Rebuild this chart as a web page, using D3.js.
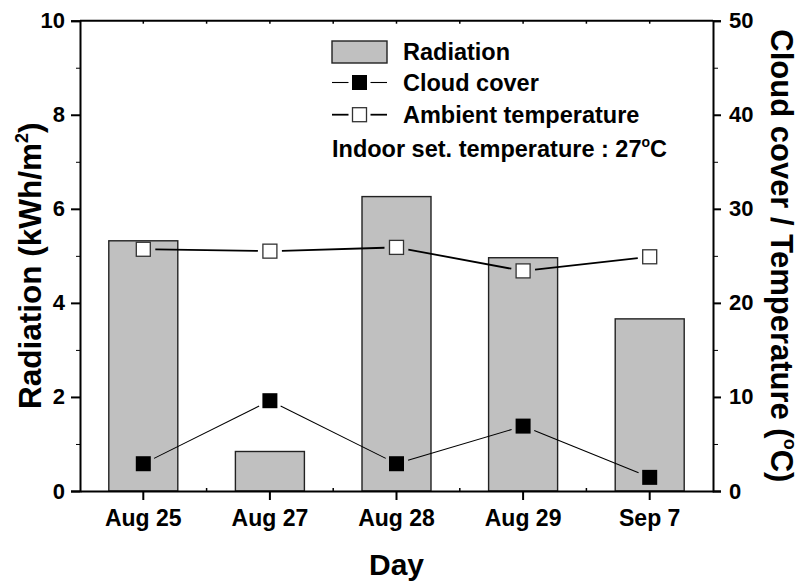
<!DOCTYPE html>
<html>
<head>
<meta charset="utf-8">
<script src="https://cdn.jsdelivr.net/npm/d3@7"></script>
<style>
  html, body { margin: 0; padding: 0; background: #fff; }
  svg { display: block; }
  text { font-family: "Liberation Sans", Arial, Helvetica, sans-serif; font-weight: bold; fill: #000; }
</style>
</head>
<body>
<svg id="chart" width="801" height="583"></svg>
<script>
// Daily radiation, cloud cover and ambient temperature
const days = ["Aug 25", "Aug 27", "Aug 28", "Aug 29", "Sep 7"];
const radiation = [5.32, 0.84, 6.26, 4.96, 3.66];      // kWh/m²
const cloudCover = [2.9, 9.6, 2.9, 6.9, 1.45];          // right axis
const ambientTemp = [25.7, 25.5, 25.9, 23.4, 24.9];     // °C, right axis
const leftTicks = [0, 2, 4, 6, 8, 10];
const rightTicks = [0, 10, 20, 30, 40, 50];

const svg = d3.select("#chart");
const plot = { left: 80, right: 713, top: 20.7, bottom: 491 };

const x = d3.scaleBand().domain(days).range([plot.left, plot.right]).paddingInner(0.455).paddingOuter(0.2275);
const xc = d => x(d) + x.bandwidth() / 2;
const yL = d3.scaleLinear().domain([0, 10]).range([plot.bottom, plot.top]);
const yR = d3.scaleLinear().domain([0, 50]).range([plot.bottom, plot.top]);

// Bars
svg.append("g").selectAll("rect").data(days).join("rect")
  .attr("x", d => x(d))
  .attr("y", (d, i) => yL(radiation[i]))
  .attr("width", x.bandwidth())
  .attr("height", (d, i) => yL(0) - yL(radiation[i]))
  .attr("fill", "#c0c0c0")
  .attr("stroke", "#222")
  .attr("stroke-width", 1.4);

// Connecting lines that stop short of each marker
function gappedSegments(g, pts, gap, width) {
  for (let i = 0; i < pts.length - 1; i++) {
    const [x1, y1] = pts[i], [x2, y2] = pts[i + 1];
    const len = Math.hypot(x2 - x1, y2 - y1);
    const ux = (x2 - x1) / len, uy = (y2 - y1) / len;
    g.append("line")
      .attr("x1", x1 + ux * gap).attr("y1", y1 + uy * gap)
      .attr("x2", x2 - ux * gap).attr("y2", y2 - uy * gap)
      .attr("stroke", "#000").attr("stroke-width", width);
  }
}

const ms = 15; // marker size
const cloudPts = days.map((d, i) => [xc(d), yR(cloudCover[i])]);
const tempPts = days.map((d, i) => [xc(d), yR(ambientTemp[i])]);

const gCloud = svg.append("g");
gappedSegments(gCloud, cloudPts, 12, 1.1);
gCloud.selectAll("rect").data(cloudPts).join("rect")
  .attr("x", p => p[0] - ms / 2).attr("y", p => p[1] - ms / 2)
  .attr("width", ms).attr("height", ms)
  .attr("fill", "#000");

const gTemp = svg.append("g");
gappedSegments(gTemp, tempPts, 12, 1.8);
gTemp.selectAll("rect").data(tempPts).join("rect")
  .attr("x", p => p[0] - (ms - 1) / 2).attr("y", p => p[1] - (ms - 1) / 2)
  .attr("width", ms - 1).attr("height", ms - 1)
  .attr("fill", "#fff").attr("stroke", "#333").attr("stroke-width", 1.3);

// Axes
const tickFont = "22px";
const axisLeft = svg.append("g").attr("transform", `translate(${plot.left},0)`)
  .call(d3.axisLeft(yL).tickValues(leftTicks).tickSize(9).tickPadding(6).tickFormat(d3.format("d")));
const axisRight = svg.append("g").attr("transform", `translate(${plot.right},0)`)
  .call(d3.axisRight(yR).tickValues(rightTicks).tickSize(8).tickPadding(8).tickFormat(d3.format("d")));
const axisBottom = svg.append("g").attr("transform", `translate(0,${plot.bottom})`)
  .call(d3.axisBottom(x).tickSize(9).tickPadding(10).tickSizeOuter(0));

// Minor ticks
svg.append("g").attr("transform", `translate(${plot.left},0)`)
  .call(d3.axisLeft(yL).tickValues([1, 3, 5, 7, 9]).tickSize(4).tickFormat(""))
  .call(g => g.select(".domain").remove());
svg.append("g").attr("transform", `translate(${plot.right},0)`)
  .call(d3.axisRight(yR).tickValues([5, 15, 25, 35, 45]).tickSize(5).tickFormat(""))
  .call(g => g.select(".domain").remove());

// Small inward ticks between categories and on the top frame
const mids = days.slice(0, -1).map((d, i) => (xc(d) + xc(days[i + 1])) / 2);
svg.append("g").selectAll("line").data(mids).join("line")
  .attr("x1", d => d).attr("x2", d => d)
  .attr("y1", plot.bottom).attr("y2", plot.bottom - 3)
  .attr("stroke", "#000").attr("stroke-width", 1.5);
svg.append("g").selectAll("line").data(days.map(xc).concat(mids)).join("line")
  .attr("x1", d => d).attr("x2", d => d)
  .attr("y1", plot.top).attr("y2", plot.top + 3)
  .attr("stroke", "#000").attr("stroke-width", 1.5);

// Top frame line
svg.append("line")
  .attr("x1", plot.left).attr("x2", plot.right)
  .attr("y1", plot.top).attr("y2", plot.top)
  .attr("stroke", "#000").attr("stroke-width", 2);

[axisLeft, axisRight, axisBottom].forEach(g => {
  g.selectAll(".domain").attr("stroke-width", 2);
  g.selectAll(".tick line").attr("stroke-width", 2);
  g.selectAll(".tick text").style("font-size", tickFont);
});
axisBottom.selectAll(".tick text").style("font-size", "23px");

// Axis titles
svg.append("text")
  .attr("x", (plot.left + plot.right) / 2).attr("y", 575)
  .attr("text-anchor", "middle").style("font-size", "30px")
  .text("Day");

const lt = svg.append("text")
  .attr("transform", `translate(41,${(plot.top + plot.bottom) / 2 + 10}) rotate(-90)`)
  .attr("text-anchor", "middle").style("font-size", "31.5px");
lt.append("tspan").text("Radiation (kWh/m");
lt.append("tspan").text("2").style("font-size", "18px").attr("dy", "-13");
lt.append("tspan").text(")").attr("dy", "13");

const rt = svg.append("text")
  .attr("transform", `translate(771,${(plot.top + plot.bottom) / 2}) rotate(90)`)
  .attr("text-anchor", "middle").style("font-size", "31px");
rt.append("tspan").text("Cloud cover / Temperature (");
rt.append("tspan").text("o").style("font-size", "18px").attr("dy", "-13");
rt.append("tspan").text("C)").attr("dy", "13");

// Legend
const lg = svg.append("g");
const lx0 = 332, lx1 = 387, lmid = (lx0 + lx1) / 2, ltx = 403;
const legendFont = "23.5px";

lg.append("rect").attr("x", lx0).attr("y", 41).attr("width", lx1 - lx0).attr("height", 22)
  .attr("fill", "#c0c0c0").attr("stroke", "#222").attr("stroke-width", 1.4);
lg.append("text").attr("x", ltx).attr("y", 60).style("font-size", legendFont).text("Radiation");

const rowCloud = 82.5;
lg.append("line").attr("x1", lx0).attr("x2", lmid - 11).attr("y1", rowCloud).attr("y2", rowCloud).attr("stroke", "#000").attr("stroke-width", 1.1);
lg.append("line").attr("x1", lmid + 11).attr("x2", lx1).attr("y1", rowCloud).attr("y2", rowCloud).attr("stroke", "#000").attr("stroke-width", 1.1);
lg.append("rect").attr("x", lmid - ms / 2).attr("y", rowCloud - ms / 2).attr("width", ms).attr("height", ms).attr("fill", "#000");
lg.append("text").attr("x", ltx).attr("y", 91).style("font-size", legendFont).text("Cloud cover");

const rowTemp = 114.7;
lg.append("line").attr("x1", lx0).attr("x2", lmid - 11).attr("y1", rowTemp).attr("y2", rowTemp).attr("stroke", "#000").attr("stroke-width", 1.8);
lg.append("line").attr("x1", lmid + 11).attr("x2", lx1).attr("y1", rowTemp).attr("y2", rowTemp).attr("stroke", "#000").attr("stroke-width", 1.8);
lg.append("rect").attr("x", lmid - (ms - 1) / 2).attr("y", rowTemp - (ms - 1) / 2).attr("width", ms - 1).attr("height", ms - 1)
  .attr("fill", "#fff").attr("stroke", "#333").attr("stroke-width", 1.3);
lg.append("text").attr("x", ltx).attr("y", 122.5).style("font-size", legendFont).text("Ambient temperature");

const ind = lg.append("text").attr("x", lx0).attr("y", 157).style("font-size", legendFont);
ind.append("tspan").text("Indoor set. temperature : 27");
ind.append("tspan").text("o").style("font-size", "14px").attr("dy", "-10");
ind.append("tspan").text("C").attr("dy", "10");
</script>
</body>
</html>
